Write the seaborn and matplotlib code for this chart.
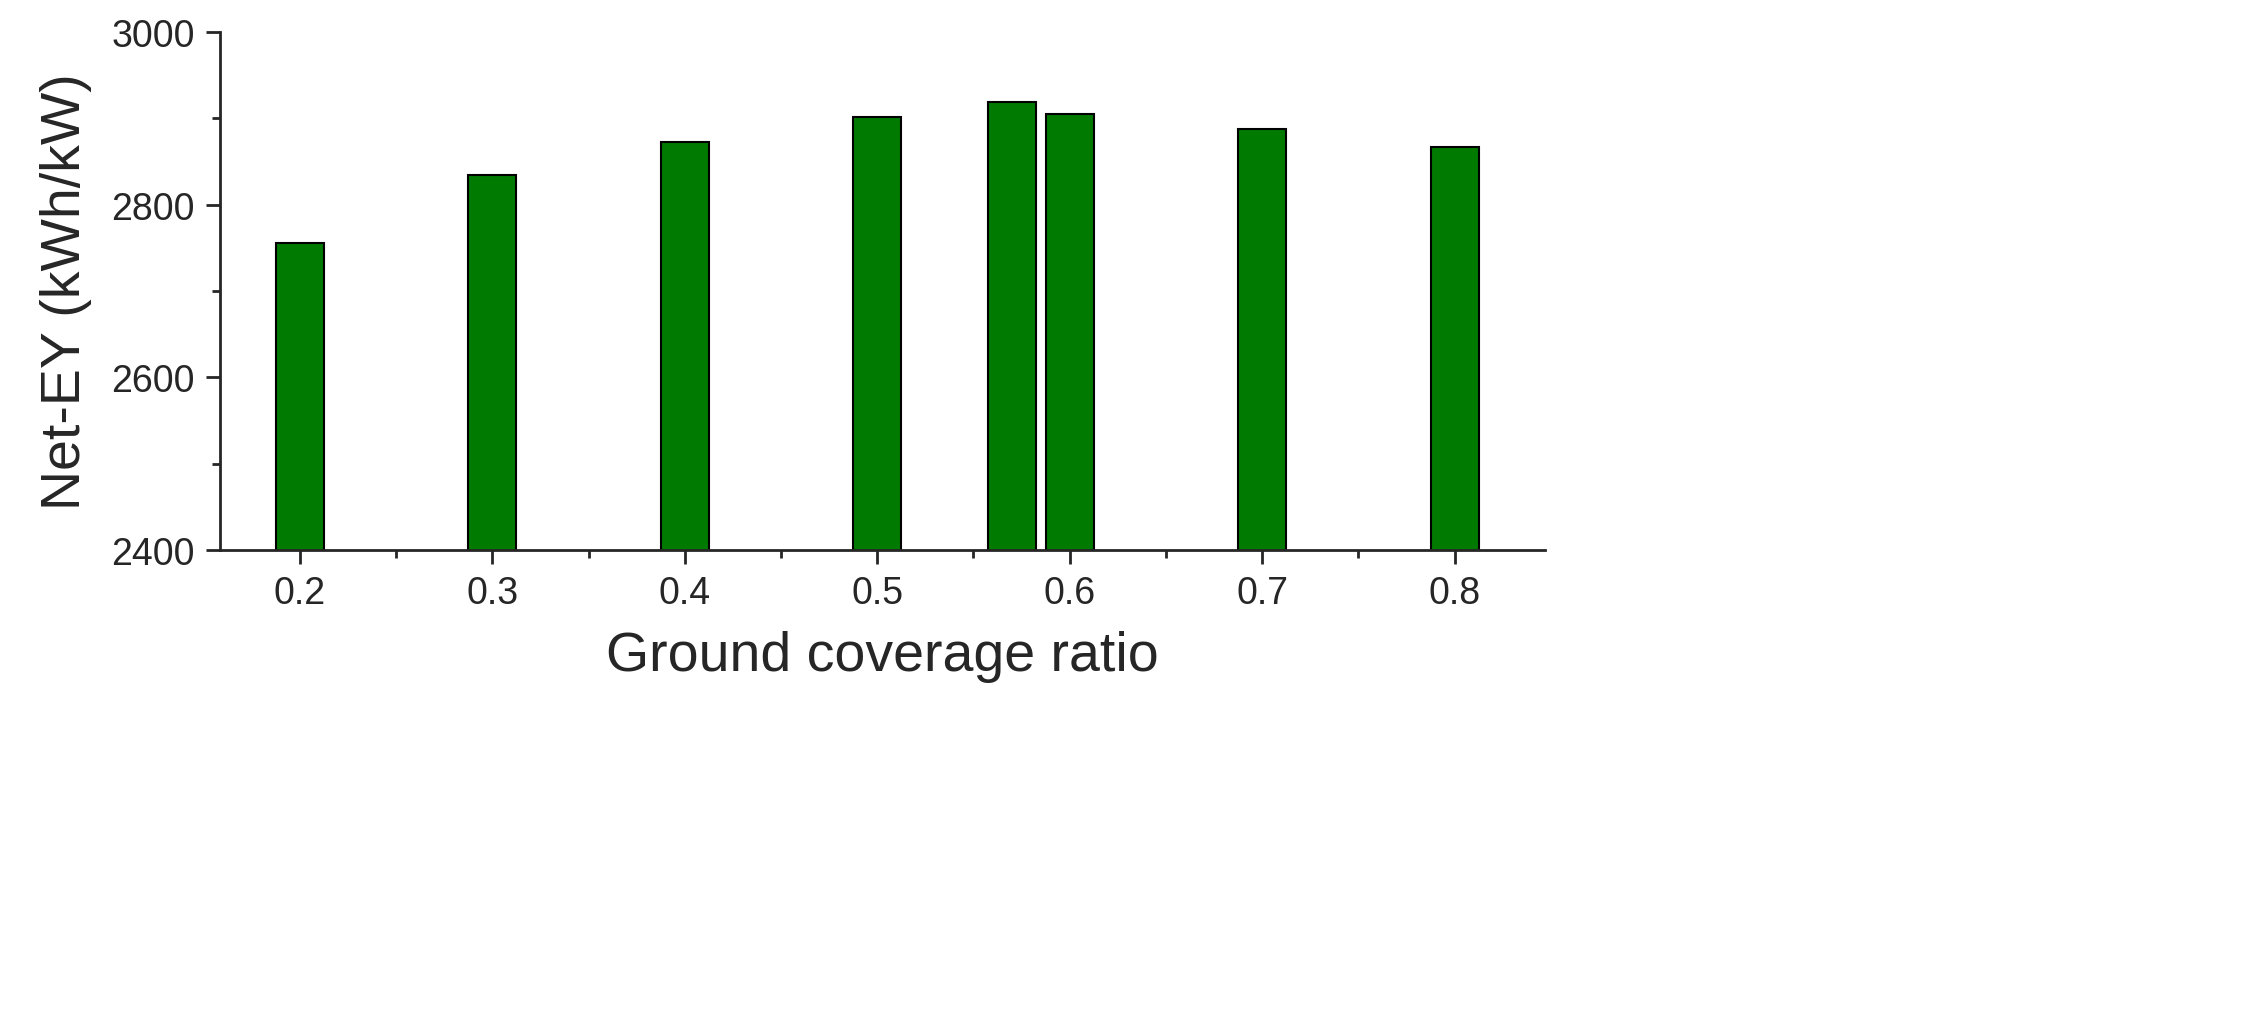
import matplotlib
matplotlib.use('Agg')
import matplotlib.pyplot as plt
import pandas as pd
import seaborn as sb
from matplotlib.ticker import MultipleLocator

GCR = [0.2, 0.3, 0.4, 0.5, 0.57, 0.6, 0.7, 0.8]
NET_EY = [2756, 2834, 2873, 2902, 2919, 2905, 2888, 2867]
XTICKS = [0.2, 0.3, 0.4, 0.5, 0.6, 0.7, 0.8]

sb.set_style('ticks')
plt.rcParams['font.family'] = ['Liberation Sans', 'DejaVu Sans']

df = pd.DataFrame({'gcr': GCR, 'ey': NET_EY})

fig, ax = plt.subplots(figsize=(22.49, 10.2), dpi=100)
sb.barplot(data=df, x='gcr', y='ey', native_scale=True, width=0.83,
           color='#007a00', saturation=1, edgecolor='black', linewidth=1.5, ax=ax)

ax.set_xlim(0.1585, 0.847)
ax.set_ylim(2400, 3000)
ax.set_xticks(XTICKS)
ax.set_xticklabels([str(t) for t in XTICKS])
ax.xaxis.set_minor_locator(MultipleLocator(0.05))
ax.yaxis.set_major_locator(MultipleLocator(200))
ax.yaxis.set_minor_locator(MultipleLocator(100))
ax.tick_params(which='major', length=10, width=2, labelsize=27, direction='out', pad=8)
ax.tick_params(which='minor', length=6, width=2, direction='out')
for s in ['left', 'bottom']:
    ax.spines[s].set_linewidth(2)
sb.despine(ax=ax)

ax.set_xlabel('Ground coverage ratio', fontsize=40, labelpad=14)
ax.set_ylabel('Net-EY (kWh/kW)', fontsize=40, labelpad=14)

fig.subplots_adjust(left=220 / 2249, right=1545 / 2249, bottom=1 - 551 / 1020, top=1 - 33 / 1020)
fig.savefig('out.png', dpi=100)
